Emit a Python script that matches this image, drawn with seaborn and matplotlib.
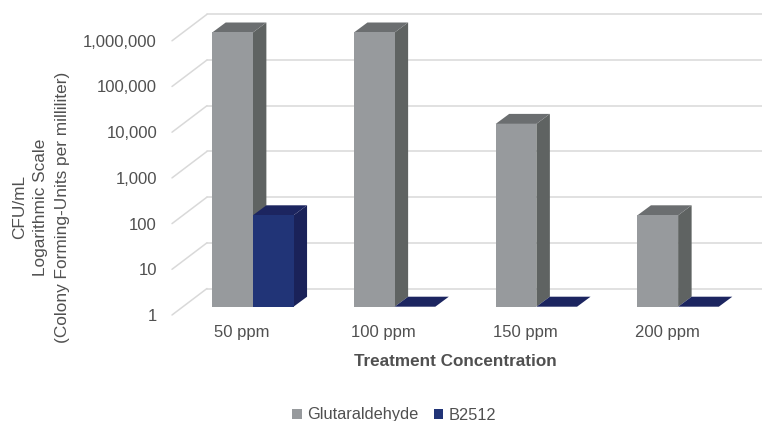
import matplotlib
matplotlib.use("Agg")
import matplotlib.pyplot as plt
from matplotlib.lines import Line2D
from matplotlib.patches import Polygon
from matplotlib.transforms import Affine2D, IdentityTransform
import pandas as pd
import seaborn as sns

categories = ["50 ppm", "100 ppm", "150 ppm", "200 ppm"]
glutaraldehyde = [1000000, 1000000, 10000, 100]
b2512 = [100, 1, 1, 1]
series_names = ["Glutaraldehyde", "B2512"]
y_ticks = [1, 10, 100, 1000, 10000, 100000, 1000000]
y_tick_labels = ["1", "10", "100", "1,000", "10,000", "100,000", "1,000,000"]

W, H = 762, 421
sns.set_theme(style="white")
plt.rcParams["font.family"] = ["Liberation Sans", "DejaVu Sans"]
TXT = "#505050"

df = pd.DataFrame({
    "Concentration": categories * 2,
    "CFU": glutaraldehyde + b2512,
    "Series": [series_names[0]] * 4 + [series_names[1]] * 4,
})

fig = plt.figure(figsize=(W / 100, H / 100), dpi=100, facecolor="white")
ax = fig.add_axes([182 / W, 1 - 306.7 / H, 567 / W, 274.2 / H])
front = {series_names[0]: "#979A9D", series_names[1]: "#213477"}
sns.barplot(data=df, x="Concentration", y="CFU", hue="Series", hue_order=series_names,
            palette=front, order=categories, width=0.574, gap=0, errorbar=None,
            log_scale=True, saturation=1, ax=ax, linewidth=0)
ax.set_xlim(-0.5, 3.5)
ax.set_ylim(1, 1000000)
ax.set_facecolor("none")
for s in ax.spines.values():
    s.set_visible(False)
ax.minorticks_off()
ax.set_yticks(y_ticks, y_tick_labels)
ax.tick_params(axis="both", which="both", length=0, labelcolor=TXT, labelsize=12)
ax.tick_params(axis="y", pad=18)
ax.tick_params(axis="x", pad=13)
for t in ax.get_yticklabels():
    t.set_transform(t.get_transform() + Affine2D().translate(0, -8.3))
for t in ax.get_xticklabels():
    t.set_transform(t.get_transform() + Affine2D().translate(-11, 0))

# Walls: gridlines on the back plane and slanted floor/side lines
GRID = "#D9D9D9"
back = ax.get_yaxis_transform() + Affine2D().translate(25, 18.2)
ahead = ax.get_yaxis_transform() + Affine2D().translate(-10, -8.3)
for v in y_ticks:
    ax.add_line(Line2D([0, 1.1], [v, v], transform=back, color=GRID, lw=1.1,
                       clip_on=False, zorder=0.5))
    x0, y0 = ahead.transform((0, v))
    x1, y1 = back.transform((0, v))
    ax.add_line(Line2D([x0, x1], [y0, y1], transform=IdentityTransform(), color=GRID,
                       lw=1.1, clip_on=False, zorder=0.5))

# 3-D side and top faces derived from each drawn bar
DX, DY = 13.5, 10
faces = [("#5F6362", "#6B6E70"), ("#1A2259", "#1C2560")]
for i, (cont, (side_c, top_c)) in enumerate(zip(ax.containers, faces)):
    z = 2 + 2 * i
    for p in cont.patches:
        val = p.get_y() + p.get_height()
        # Bars on a log axis must start at the axis floor, not at zero
        p.set_y(1)
        p.set_height(val - 1)
        p.set_zorder(z + 1)
        xa, xb = p.get_x(), p.get_x() + p.get_width()
        (px0, py0), (px1, py1) = ax.transData.transform([(xa, 1), (xb, val)])
        top = [(px0, py1), (px1, py1), (px1 + DX, py1 + DY), (px0 + DX, py1 + DY)]
        side = [(px1, py0), (px1 + DX, py0 + DY), (px1 + DX, py1 + DY), (px1, py1)]
        for pts, c in ((side, side_c), (top, top_c)):
            ax.add_patch(Polygon(pts, closed=True, transform=IdentityTransform(), facecolor=c,
                                 edgecolor="none", clip_on=False, zorder=z))

ax.set_xlabel("Treatment Concentration", fontsize=12.3, fontweight="bold", color=TXT, va="center")
ax.xaxis.set_label_coords((455 - 182) / 567, -(362 - 306.7) / 274.2)
ax.set_ylabel("CFU/mL\nLogarithmic Scale\n(Colony Forming-Units per milliliter)", fontsize=12.4,
              color=TXT, ha="center", va="center", multialignment="center", linespacing=1.55)
ax.yaxis.set_label_coords(-(182 - 41) / 567, (306.7 - 207) / 274.2)

handles, labels = ax.get_legend_handles_labels()
ax.legend(handles, labels, loc="center", bbox_to_anchor=(394 / W, 1 - 415 / H),
          bbox_transform=fig.transFigure, ncol=2, frameon=False, fontsize=11.8,
          labelcolor=TXT, handlelength=0.6, handleheight=0.6, handletextpad=0.3,
          columnspacing=0.95, borderpad=0)

fig.savefig("out.png", dpi=100)
